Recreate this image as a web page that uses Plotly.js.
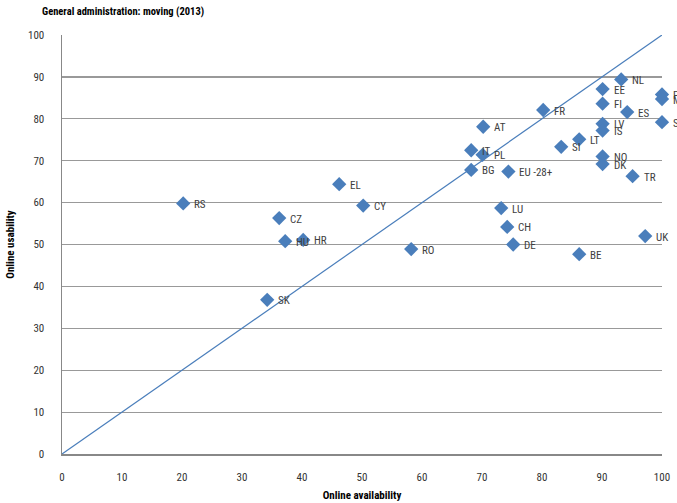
<!DOCTYPE html>
<html><head><meta charset="utf-8">
<script src="https://cdn.plot.ly/plotly-3.0.1.min.js"></script>
<style>body{margin:0;padding:0;background:#fff}#chart{width:677px;height:503px}</style>
</head><body><div id="chart"></div>
<script>
const countries = ["NL","EE","PT","MT","FI","FR","ES","SE","AT","LV","IS","LT","SI","IT","PL","NO","DK","BG","EU -28+","TR","EL","RS","CY","LU","CZ","CH","UK","HU","HR","DE","RO","BE","SK"];
const availability = [93.2,90.1,100,100,90.1,80.2,94.2,100,70.2,90.1,90.1,86.2,83.2,68.2,70.1,90.1,90.1,68.2,74.4,95.1,46.2,20.2,50.2,73.2,36.2,74.2,97.2,37.2,40.2,75.2,58.2,86.2,34.2];
const usability = [89.4,87.1,85.8,84.7,83.6,82.1,81.6,79.2,78.1,78.8,77.2,75.1,73.3,72.5,71.4,71.0,69.2,67.8,67.4,66.3,64.4,59.8,59.3,58.7,56.3,54.2,52.0,50.8,51.1,50.0,48.9,47.7,36.8];
const diagX = [0,100];
const diagY = [0,100];

const FONT = "Liberation Sans Narrow, Arial Narrow, Roboto Condensed, sans-serif";
const BLUE = "#4a7ebb";

const traces = [
  {x: diagX, y: diagY, mode: "lines", line: {color: BLUE, width: 1.2}, hoverinfo: "skip", showlegend: false},
  {x: availability, y: usability, mode: "markers", type: "scatter", cliponaxis: false,
   marker: {symbol: "diamond", size: 11, color: BLUE}, showlegend: false}
];

const annotations = countries.map((c, i) => ({
  x: availability[i], y: usability[i], text: c, showarrow: false,
  xanchor: "left", yanchor: "middle", xshift: 9, yshift: -1,
  font: {family: FONT, size: 11, color: "#404040"}
}));
annotations.push({text: "<b>General administration: moving (2013)</b>", xref: "paper", yref: "paper",
  x: -0.037, y: 1.055, xanchor: "left", yanchor: "middle", showarrow: false,
  font: {family: FONT, size: 10.5, color: "#000"}});

const layout = {
  width: 677, height: 503,
  margin: {l: 62, r: 15, t: 35, b: 49},
  paper_bgcolor: "#fff", plot_bgcolor: "#fff",
  font: {family: FONT, size: 11, color: "#333"},
  showlegend: false,
  xaxis: {range: [0, 100], dtick: 10, tick0: 0, showgrid: false, zeroline: false,
    showline: true, linecolor: "#888", linewidth: 1.5,
    ticks: "outside", ticklen: 12, tickcolor: "rgba(0,0,0,0)",
    tickfont: {family: FONT, size: 11, color: "#333"},
    title: {text: "<b>Online availability</b>", font: {family: FONT, size: 11, color: "#000"}, standoff: 8}},
  yaxis: {range: [0, 100], dtick: 10, tick0: 0, showgrid: true, gridcolor: "#999", gridwidth: 1.2, zeroline: false,
    showline: true, linecolor: "#888", linewidth: 1.5,
    ticks: "outside", ticklen: 14, tickcolor: "rgba(0,0,0,0)",
    tickfont: {family: FONT, size: 11, color: "#333"},
    title: {text: "<b>Online usability</b>", font: {family: FONT, size: 11, color: "#000"}, standoff: 11}},
  annotations: annotations
};

Plotly.newPlot("chart", traces, layout, {displayModeBar: false, staticPlot: true});
</script></body></html>
